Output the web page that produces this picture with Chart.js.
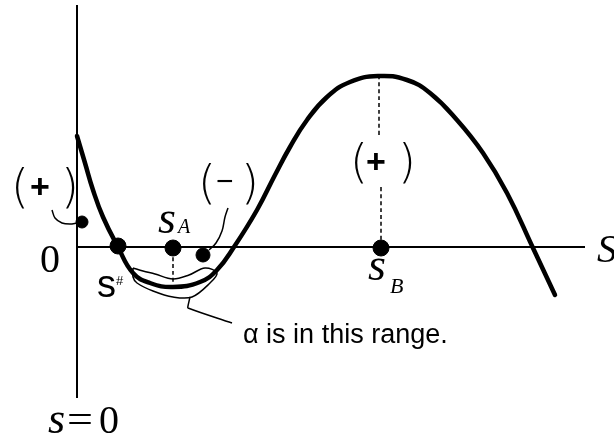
<!DOCTYPE html>
<html>
<head>
<meta charset="utf-8">
<script src="https://cdn.jsdelivr.net/npm/chart.js@4.4.0/dist/chart.umd.min.js"></script>
<style>
  html, body { margin: 0; padding: 0; background: #fff; }
  canvas { display: block; }
</style>
</head>
<body>
<canvas id="chart1" width="614" height="439"></canvas>
<script>
// units: s to the right of the vertical axis, value above the s axis
const curveS = [0, 8, 16, 26, 41, 56, 73, 96, 123, 140, 157, 180, 198, 213, 230, 250, 273, 301, 330, 353, 380, 406, 430, 456, 478];
const curveV = [111, 84, 57, 30, 0, -26, -36, -40, -35, -23, 0, 37, 72, 100, 127, 150, 165, 171, 167, 154, 127, 94, 54, -1, -48];

const dotS = [5, 41, 96, 126, 304];
const dotV = [25, 1, -1, -8, -1];

const sAxis = [{x: 0, y: 0}, {x: 508, y: 0}];
const vAxis = [{x: 0, y: 242}, {x: 0, y: -151}];

const dashA = [{x: 96, y: -3}, {x: 96, y: -40}];
const dashB1 = [{x: 302, y: 172}, {x: 302, y: 112}];
const dashB2 = [{x: 304, y: 60}, {x: 304, y: 2}];

// hand drawn pointers
const hookPlus = [{x: -25, y: 37}, {x: -22, y: 29}, {x: -15, y: 24}, {x: -7, y: 23}, {x: 0, y: 24}];
const hookMinus = [{x: 151, y: 39}, {x: 148, y: 30}, {x: 145, y: 16}, {x: 139, y: 4}, {x: 132, y: -3}];
const rangeLoop = [
  {x: 56, y: -21}, {x: 66, y: -24}, {x: 78, y: -27}, {x: 96, y: -32}, {x: 112, y: -28},
  {x: 128, y: -21}, {x: 140, y: -26}, {x: 133, y: -36}, {x: 115, y: -50}, {x: 96, y: -50},
  {x: 76, y: -44}, {x: 60, y: -36}, {x: 56, y: -30}, {x: 56, y: -21}
];
const rangePointer = [{x: 113, y: -50}, {x: 111, y: -59}, {x: 111, y: -61}, {x: 155, y: -76}];

const parenFont = '200 46px "DejaVu Sans"';
const labels = [
  {t: '0', x: -37, y: -25, font: '40px "Liberation Serif"'},
  {t: 'S', x: 520, y: -15, font: 'italic 40px "Liberation Serif"'},
  {t: 's', x: -29, y: -186, font: 'italic 44px "Liberation Serif"'},
  {t: '=', x: -10, y: -186, font: '40px "Liberation Serif"', sx: 1.15},
  {t: '0', x: 22, y: -186, font: '40px "Liberation Serif"'},
  {t: 's', x: 81, y: 14, font: 'italic 46px "Liberation Serif"'},
  {t: 'A', x: 101, y: 14, font: 'italic 20px "Liberation Serif"'},
  {t: 's', x: 20, y: -50, font: '38px "Liberation Sans"'},
  {t: '#', x: 39, y: -38, font: '13px "Liberation Sans"'},
  {t: 's', x: 291, y: -33, font: 'italic 46px "Liberation Serif"'},
  {t: 'B', x: 313, y: -46, font: 'italic 22px "Liberation Serif"'},
  {t: '(', x: -66, y: 45, font: parenFont},
  {t: '+', x: -47, y: 49, font: 'bold 34px "Liberation Sans"'},
  {t: ')', x: -16, y: 45, font: parenFont},
  {t: '(', x: 121, y: 49, font: parenFont},
  {t: '\u2212', x: 139, y: 56, font: '30px "Liberation Sans"'},
  {t: ')', x: 164, y: 49, font: parenFont},
  {t: '(', x: 273, y: 70, font: parenFont},
  {t: '+', x: 289, y: 74, font: 'bold 34px "Liberation Sans"'},
  {t: ')', x: 321, y: 70, font: parenFont},
  {t: '\u03b1 is in this range.', x: 166, y: -96, font: '27px "Liberation Sans"'}
];

const curve = curveS.map((s, i) => ({x: s, y: curveV[i]}));
const dots = dotS.map((s, i) => ({x: s, y: dotV[i]}));

function lineSet(data, width, dash) {
  return {
    type: 'line', data: data, borderColor: '#000', borderWidth: width,
    borderDash: dash || [], pointRadius: 0, tension: 0.35, fill: false
  };
}

const textPlugin = {
  id: 'texts',
  afterDatasetsDraw(chart) {
    const c = chart.ctx;
    const xs = chart.scales.x, ys = chart.scales.y;
    c.save();
    c.fillStyle = '#000';
    c.textBaseline = 'alphabetic';
    c.textAlign = 'left';
    labels.forEach(l => {
      c.font = l.font;
      const px = xs.getPixelForValue(l.x), py = ys.getPixelForValue(l.y);
      c.save();
      c.translate(px, py);
      if (l.sx) c.scale(l.sx, 1);
      c.fillText(l.t, 0, 0);
      c.restore();
    });
    c.restore();
  }
};

new Chart(document.getElementById('chart1').getContext('2d'), {
  type: 'scatter',
  data: {
    datasets: [
      lineSet(vAxis, 2),
      lineSet(sAxis, 2),
      lineSet(dashA, 1.5, [4, 3]),
      lineSet(dashB1, 1.5, [4, 3]),
      lineSet(dashB2, 1.5, [4, 3]),
      lineSet(hookPlus, 1.5),
      lineSet(hookMinus, 1.5),
      lineSet(rangeLoop, 1.5),
      lineSet(rangePointer, 1.5),
      Object.assign(lineSet(curve, 4.5), {tension: 0.45, borderCapStyle: 'round', borderJoinStyle: 'round'}),
      {
        type: 'scatter', data: dots, backgroundColor: '#000', borderColor: '#000',
        pointRadius: [6, 8, 8, 7, 8], pointHoverRadius: 8
      }
    ]
  },
  options: {
    responsive: false,
    animation: false,
    events: [],
    layout: {padding: 0, autoPadding: false},
    plugins: {legend: {display: false}, tooltip: {enabled: false}},
    scales: {
      x: {type: 'linear', min: -77, max: 537, display: false},
      y: {type: 'linear', min: -192, max: 247, display: false}
    }
  },
  plugins: [textPlugin]
});
</script>
</body>
</html>
